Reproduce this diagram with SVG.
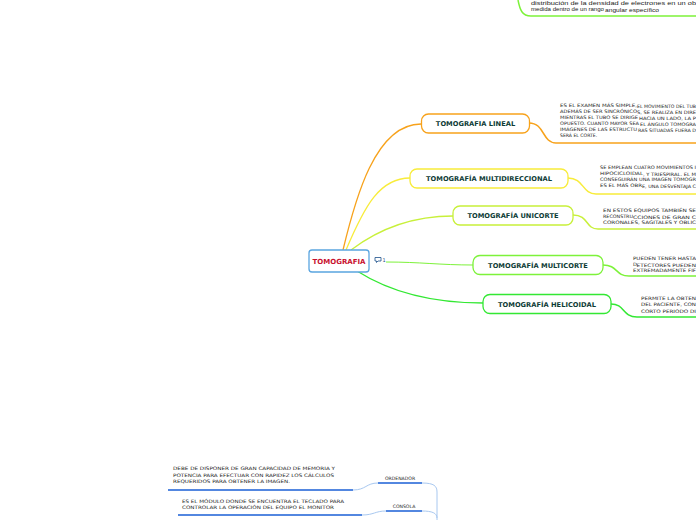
<svg xmlns="http://www.w3.org/2000/svg" width="696" height="520" viewBox="0 0 696 520">
<style>
.node{fill:#fff;stroke-width:1.3}
.nt{font-family:"DejaVu Sans",sans-serif;font-weight:bold;font-size:6.7px;fill:#0d3b36;text-anchor:middle}
.sm{font-family:"DejaVu Sans",sans-serif;font-size:4.6px;fill:#222}
.sm2{font-family:"Liberation Sans",sans-serif;font-size:5px;fill:#222}
.c{fill:none}
</style>
<rect width="696" height="520" fill="#fff"/>
<g id="connectors">
<path class="c" d="M343,250 C355,200 375,124 421,124" stroke="#f7a21b" stroke-width="1.3"/>
<path class="c" d="M346,250 C365,205 380,178 410,178" stroke="#f8ec3a" stroke-width="1.3"/>
<path class="c" d="M351,250 C380,228 415,216 453,216" stroke="#c8f03a" stroke-width="1.3"/>
<path class="c" d="M386,262 C420,262 440,265 473,265" stroke="#7df23a" stroke-width="1"/>
<path class="c" d="M357,271 C390,292 430,303 483,303" stroke="#33e833" stroke-width="1.3"/>
<path class="c" d="M529,123 C545,123 542,143 556,143 L696,143" stroke="#f7a21b" stroke-width="1.5"/>
<path class="c" d="M568,178 C584,178 582,194 596,194 L696,194" stroke="#f8ec3a" stroke-width="1.5"/>
<path class="c" d="M573,215 C589,215 585,229 598,229 L696,229" stroke="#c8f03a" stroke-width="1.5"/>
<path class="c" d="M603,265 C618,265 615,276 629,276 L696,276" stroke="#7df23a" stroke-width="1.5"/>
<path class="c" d="M611,304 C625,304 622,317 637,317 L696,317" stroke="#33e833" stroke-width="1.5"/>
<path class="c" d="M518,0 C520,10 522,16 531,16 L696,16" stroke="#7df23a" stroke-width="1.5"/>
<path class="c" d="M168,490 L353,490" stroke="#1a5fd6" stroke-width="1.5"/>
<path class="c" d="M353,490 C366,490 366,483 378,483" stroke="#a8c8f0" stroke-width="1"/>
<path class="c" d="M378,483 L422,483" stroke="#1a5fd6" stroke-width="1.5"/>
<path class="c" d="M422,483 C434,483 437,486 437,492 L437,520" stroke="#a8c8f0" stroke-width="1"/>
<path class="c" d="M178,515 L362,515" stroke="#1a5fd6" stroke-width="1.5"/>
<path class="c" d="M362,515 C374,515 375,511 386,511" stroke="#a8c8f0" stroke-width="1"/>
<path class="c" d="M386,511 L422,511" stroke="#1a5fd6" stroke-width="1.5"/>
<path class="c" d="M422,511 C432,511 437,513 437,518" stroke="#a8c8f0" stroke-width="1"/>
</g>
<g id="tomografia">
<rect class="node" x="309" y="250" width="60" height="22" rx="3" stroke="#5aa5e0"/>
<text x="339" y="263.5" class="nt" style="fill:#c8102e;font-size:7px">TOMOGRAFIA</text>
<path d="M375,257.5 h6 v3.5 h-3 l-1.5,1.5 v-1.5 h-1.5 z" fill="#fff" stroke="#1a4f8a" stroke-width="0.8"/>
<text x="382.5" y="262" style="font-family:'DejaVu Sans',sans-serif;font-size:5px;fill:#1a4f8a">1</text>
</g>
<g id="lineal">
<rect class="node" x="421.5" y="114" width="108" height="19" rx="7" stroke="#f7a21b"/>
<text x="475.5" y="126" class="nt">TOMOGRAFIA LINEAL</text>
<text class="sm" x="560" y="107" textLength="77" lengthAdjust="spacingAndGlyphs">ES EL EXAMEN MÁS SIMPLE,</text>
<text class="sm" x="637" y="108" textLength="59" lengthAdjust="spacingAndGlyphs">EL MOVIMIENTO DEL TUB</text>
<text class="sm" x="560" y="113" textLength="77" lengthAdjust="spacingAndGlyphs">ADEMÁS DE SER SINCRÓNICO</text>
<text class="sm" x="637" y="114" textLength="59" lengthAdjust="spacingAndGlyphs">S, SE REALIZA EN DIRE</text>
<text class="sm" x="560" y="119" textLength="78" lengthAdjust="spacingAndGlyphs">MIENTRAS EL TUBO SE DIRIGE</text>
<text class="sm" x="639" y="120" textLength="57" lengthAdjust="spacingAndGlyphs">HACIA UN LADO, LA P</text>
<text class="sm" x="560" y="125" textLength="79" lengthAdjust="spacingAndGlyphs">OPUESTO. CUANTO MAYOR SEA</text>
<text class="sm" x="640" y="126" textLength="56" lengthAdjust="spacingAndGlyphs">EL ÁNGULO TOMOGRA</text>
<text class="sm" x="560" y="131" textLength="77" lengthAdjust="spacingAndGlyphs">IMÁGENES DE LAS ESTRUCTU</text>
<text class="sm" x="638" y="132" textLength="58" lengthAdjust="spacingAndGlyphs">RAS SITUADAS FUERA D</text>
<text class="sm" x="560" y="137">SERÁ EL CORTE.</text>
</g>
<g id="multidireccional">
<rect class="node" x="410" y="169" width="158" height="19" rx="7" stroke="#f8ec3a"/>
<text x="489" y="181" class="nt">TOMOGRAFÍA MULTIDIRECCIONAL</text>
<text class="sm" x="600" y="169" textLength="96" lengthAdjust="spacingAndGlyphs">SE EMPLEAN CUATRO MOVIMIENTOS I</text>
<text class="sm" x="600" y="175" textLength="43" lengthAdjust="spacingAndGlyphs">HIPOCICLOIDAL</text>
<text class="sm" x="643" y="176" textLength="53" lengthAdjust="spacingAndGlyphs">, Y TRIESPIRAL. EL M</text>
<text class="sm" x="600" y="181" textLength="96" lengthAdjust="spacingAndGlyphs">CONSEGUIRÁN UNA IMAGEN TOMOGR</text>
<text class="sm" x="600" y="187" textLength="42" lengthAdjust="spacingAndGlyphs">ES EL MÁS OBR</text>
<text class="sm" x="642" y="188" textLength="54" lengthAdjust="spacingAndGlyphs">E, UNA DESVENTAJA C</text>
</g>
<g id="unicorte">
<rect class="node" x="453" y="206" width="120" height="19" rx="7" stroke="#c8f03a"/>
<text x="513" y="218" class="nt">TOMOGRAFÍA UNICORTE</text>
<text class="sm" x="603" y="211.5" textLength="93" lengthAdjust="spacingAndGlyphs">EN ESTOS EQUIPOS TAMBIÉN SE</text>
<text class="sm" x="603" y="217.5" textLength="30" lengthAdjust="spacingAndGlyphs">RECONSTRU</text>
<text class="sm" x="633" y="218.5" textLength="63" lengthAdjust="spacingAndGlyphs">CCIONES DE GRAN C</text>
<text class="sm" x="603" y="223.5" textLength="93" lengthAdjust="spacingAndGlyphs">CORONALES, SAGITALES Y OBLIC</text>
</g>
<g id="multicorte">
<rect class="node" x="473" y="255.5" width="130" height="19" rx="7" stroke="#7df23a"/>
<text x="538" y="267.5" class="nt">TOMOGRAFÍA MULTICORTE</text>
<text class="sm" x="633" y="260" textLength="63" lengthAdjust="spacingAndGlyphs">PUEDEN TENER HASTA</text>
<text class="sm" x="633" y="266" textLength="4" lengthAdjust="spacingAndGlyphs">D</text>
<text class="sm" x="636.5" y="266.5" textLength="59.5" lengthAdjust="spacingAndGlyphs">ETECTORES PUEDEN</text>
<text class="sm" x="633" y="272" textLength="63" lengthAdjust="spacingAndGlyphs">EXTREMADAMENTE FIF</text>
</g>
<g id="helicoidal">
<rect class="node" x="483" y="294.5" width="128" height="19" rx="7" stroke="#33e833"/>
<text x="547" y="306.5" class="nt">TOMOGRAFÍA HELICOIDAL</text>
<text class="sm" x="641" y="300" textLength="55" lengthAdjust="spacingAndGlyphs">PERMITE LA OBTEN</text>
<text class="sm" x="641" y="306" textLength="55" lengthAdjust="spacingAndGlyphs">DEL PACIENTE, CON</text>
<text class="sm" x="641" y="312.5" textLength="55" lengthAdjust="spacingAndGlyphs">CORTO PERIODO DI</text>
</g>
<g id="densidad">
<text class="sm2" x="531" y="5" textLength="165" lengthAdjust="spacingAndGlyphs">distribución de la densidad de electrones en un ob</text>
<text class="sm2" x="531" y="10.5" textLength="73" lengthAdjust="spacingAndGlyphs">medida dentro de un rango</text>
<text class="sm2" x="605" y="11.5" textLength="54" lengthAdjust="spacingAndGlyphs">angular específico</text>
</g>
<g id="ordenador">
<text x="400" y="479.5" class="sm" style="text-anchor:middle">ORDENADOR</text>
<text class="sm" x="173" y="470" textLength="162" lengthAdjust="spacingAndGlyphs">DEBE DE DISPONER DE GRAN CAPACIDAD DE MEMORIA Y</text>
<text class="sm" x="173" y="476.5" textLength="161" lengthAdjust="spacingAndGlyphs">POTENCIA PARA EFECTUAR CON RAPIDEZ LOS CÁLCULOS</text>
<text class="sm" x="173" y="483" textLength="117" lengthAdjust="spacingAndGlyphs">REQUERIDOS PARA OBTENER LA IMAGEN.</text>
</g>
<g id="consola">
<text x="404" y="507.5" class="sm" style="text-anchor:middle">CONSOLA</text>
<text class="sm" x="182" y="502.5" textLength="162" lengthAdjust="spacingAndGlyphs">ES EL MÓDULO DONDE SE ENCUENTRA EL TECLADO PARA</text>
<text class="sm" x="182" y="509" textLength="152" lengthAdjust="spacingAndGlyphs">CONTROLAR LA OPERACIÓN DEL EQUIPO EL MONITOR</text>
</g>
</svg>
